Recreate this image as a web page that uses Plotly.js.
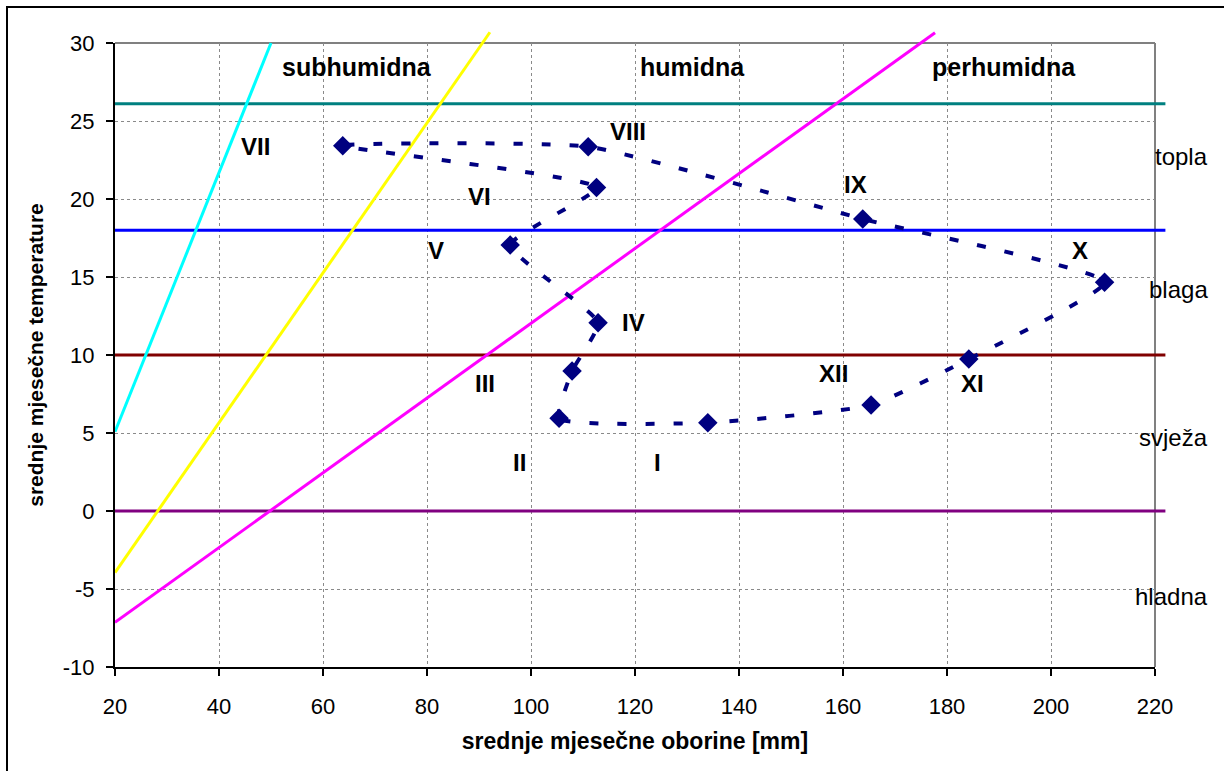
<!DOCTYPE html>
<html>
<head>
<meta charset="utf-8">
<script src="https://cdn.plot.ly/plotly-3.0.1.min.js"></script>
<style>
  html, body { margin: 0; padding: 0; background: #fff; overflow: hidden; }
  #wrap { position: relative; width: 1224px; height: 771px; }
  #chart { position: absolute; left: 0; top: 0; width: 1224px; height: 771px; }
  #frame { position: absolute; left: 6px; top: 6px; width: 1400px; height: 900px;
           border-left: 2px solid #000; border-top: 2px solid #000; pointer-events: none; }
</style>
</head>
<body>
<div id="wrap"><div id="chart"></div><div id="frame"></div></div>
<script>
// ---- data ----
const months = ['I','II','III','IV','V','VI','VII','VIII','IX','X','XI','XII'];
const precip = [134.0, 105.4, 107.9, 112.9, 96.0, 112.6, 63.8, 111.0, 163.8, 210.3, 184.2, 165.4];
const temp   = [5.66, 5.94, 8.97, 12.07, 17.05, 20.73, 23.42, 23.35, 18.72, 14.66, 9.74, 6.79];

// thermal class boundaries (horizontal lines)
const thermalBounds = [26.1, 18, 10, 0];
const boundEndX = [20, 222];
// humidity boundaries (sloped lines), end points
const cyanX = [20, 50],     cyanY = [5.08, 30];
const yellowX = [20, 92.1], yellowY = [-3.95, 30.69];
const magentaX = [20, 177.7], magentaY = [-7.14, 30.66];

const zoneLabels = ['subhumidna', 'humidna', 'perhumidna'];
const zoneX = [66.5, 131, 191];
const zoneY = 28.45;
const thermalLabels = ['topla', 'blaga', 'svježa', 'hladna'];
const thermalY = [22.7, 14.23, 4.74, -5.5];

const xTicks = [20, 40, 60, 80, 100, 120, 140, 160, 180, 200, 220];
const yTicks = [-10, -5, 0, 5, 10, 15, 20, 25, 30];

// ---- styling / layout ----
const FONT = 'Liberation Sans, Arial, sans-serif';
const W = 1224, H = 771;
const L = 115, R = 57, T = 31, B = 104;
const plotW = W - L - R, plotH = H - T - B;       // 1052 x 636
const pxPerX = 1040 / 200, pxPerY = 624 / 40;

// month label offsets (pixels) relative to each marker
const labelShift = {
  'I': [-50, -40], 'II': [-40, -44], 'III': [-87, -12], 'IV': [35, 0],
  'V': [-74, -5], 'VI': [-117, -9], 'VII': [-87, -1], 'VIII': [40, 15],
  'IX': [-7, 34], 'X': [-25, 32], 'XI': [4, -24], 'XII': [-38, 32]
};

const lineColors = ['#008080', '#0000FF', '#800000', '#800080'];
const traces = [];
// empty trace to anchor main subplot
traces.push({x: [], y: [], xaxis: 'x', yaxis: 'y', type: 'scatter', showlegend: false, hoverinfo: 'skip'});

thermalBounds.forEach((v, i) => {
  traces.push({x: boundEndX, y: [v, v], xaxis: 'x2', yaxis: 'y2', mode: 'lines',
    line: {color: lineColors[i], width: 3}, showlegend: false, hoverinfo: 'skip'});
});
[[cyanX, cyanY, '#00FFFF'], [yellowX, yellowY, '#FFFF00'], [magentaX, magentaY, '#FF00FF']].forEach(d => {
  traces.push({x: d[0], y: d[1], xaxis: 'x2', yaxis: 'y2', mode: 'lines',
    line: {color: d[2], width: 3}, showlegend: false, hoverinfo: 'skip'});
});

// monthly climate loop
traces.push({x: precip.concat([precip[0]]), y: temp.concat([temp[0]]), xaxis: 'x2', yaxis: 'y2',
  mode: 'lines', line: {color: '#000080', width: 4, dash: '9px,19px', shape: 'spline', smoothing: 0.45},
  showlegend: false, hoverinfo: 'skip'});
traces.push({x: precip, y: temp, xaxis: 'x2', yaxis: 'y2', mode: 'markers',
  marker: {symbol: 'diamond', size: 15, color: '#000080'}, showlegend: false});

const annotations = [];
months.forEach((m, i) => {
  const s = labelShift[m];
  annotations.push({x: precip[i], y: temp[i], xref: 'x', yref: 'y', text: m, showarrow: false,
    xshift: s[0], yshift: s[1], xanchor: 'center', yanchor: 'middle',
    font: {family: FONT, size: 24, color: '#000', weight: 'bold'}});
});
zoneLabels.forEach((t, i) => {
  annotations.push({x: zoneX[i], y: zoneY, xref: 'x', yref: 'y', text: t, showarrow: false,
    xanchor: 'center', yanchor: 'middle', font: {family: FONT, size: 25, color: '#000', weight: 'bold'}});
});
thermalLabels.forEach((t, i) => {
  annotations.push({x: (1210 - L) / plotW, y: thermalY[i], xref: 'paper', yref: 'y', text: t, showarrow: false,
    xanchor: 'right', yanchor: 'middle', font: {family: FONT, size: 24, color: '#000'}});
});

const mainXDomain = [0, 1040 / plotW];
const mainYDomain = [0, 624 / plotH];

const layout = {
  width: W, height: H,
  margin: {l: L, r: R, t: T, b: B, pad: 0},
  paper_bgcolor: '#ffffff', plot_bgcolor: 'rgba(0,0,0,0)',
  showlegend: false,
  font: {family: FONT, size: 22, color: '#000'},
  xaxis: {
    domain: mainXDomain, anchor: 'y', range: [20, 220], tickvals: xTicks, ticktext: xTicks.map(String),
    ticks: 'outside', ticklen: 7, tickwidth: 2, tickcolor: '#000', ticklabelstandoff: 12,
    showline: true, linecolor: '#000', linewidth: 2, zeroline: false,
    showgrid: true, gridcolor: '#8a8a8a', gridwidth: 1, griddash: 'dot',
    tickfont: {family: FONT, size: 22, color: '#000'},
    title: {text: 'srednje mjesečne oborine [mm]', standoff: 14,
      font: {family: FONT, size: 23, color: '#000', weight: 'bold'}}
  },
  yaxis: {
    domain: mainYDomain, anchor: 'x', range: [-10, 30], tickvals: yTicks, ticktext: yTicks.map(String),
    ticks: 'outside', ticklen: 7, tickwidth: 2, tickcolor: '#000', ticklabelstandoff: 7,
    showline: true, linecolor: '#000', linewidth: 2, zeroline: false,
    showgrid: true, gridcolor: '#8a8a8a', gridwidth: 1, griddash: 'dot',
    tickfont: {family: FONT, size: 22, color: '#000'},
    title: {text: 'srednje mjesečne temperature', standoff: 13,
      font: {family: FONT, size: 21, color: '#000', weight: 'bold'}}
  },
  xaxis2: {domain: [0, 1], anchor: 'y2', range: [20, 20 + plotW / pxPerX], visible: false, fixedrange: true},
  yaxis2: {domain: [0, 1], anchor: 'x2', range: [-10, -10 + plotH / pxPerY], visible: false, fixedrange: true},
  shapes: [
    {type: 'line', xref: 'x domain', yref: 'y domain', x0: 0, x1: 1, y0: 1, y1: 1,
     line: {color: '#808080', width: 2}, layer: 'below'},
    {type: 'line', xref: 'x domain', yref: 'y domain', x0: 1, x1: 1, y0: 0, y1: 1,
     line: {color: '#808080', width: 2}, layer: 'below'}
  ],
  annotations: annotations
};

Plotly.newPlot('chart', traces, layout, {staticPlot: true, displayModeBar: false});
</script>
</body>
</html>
